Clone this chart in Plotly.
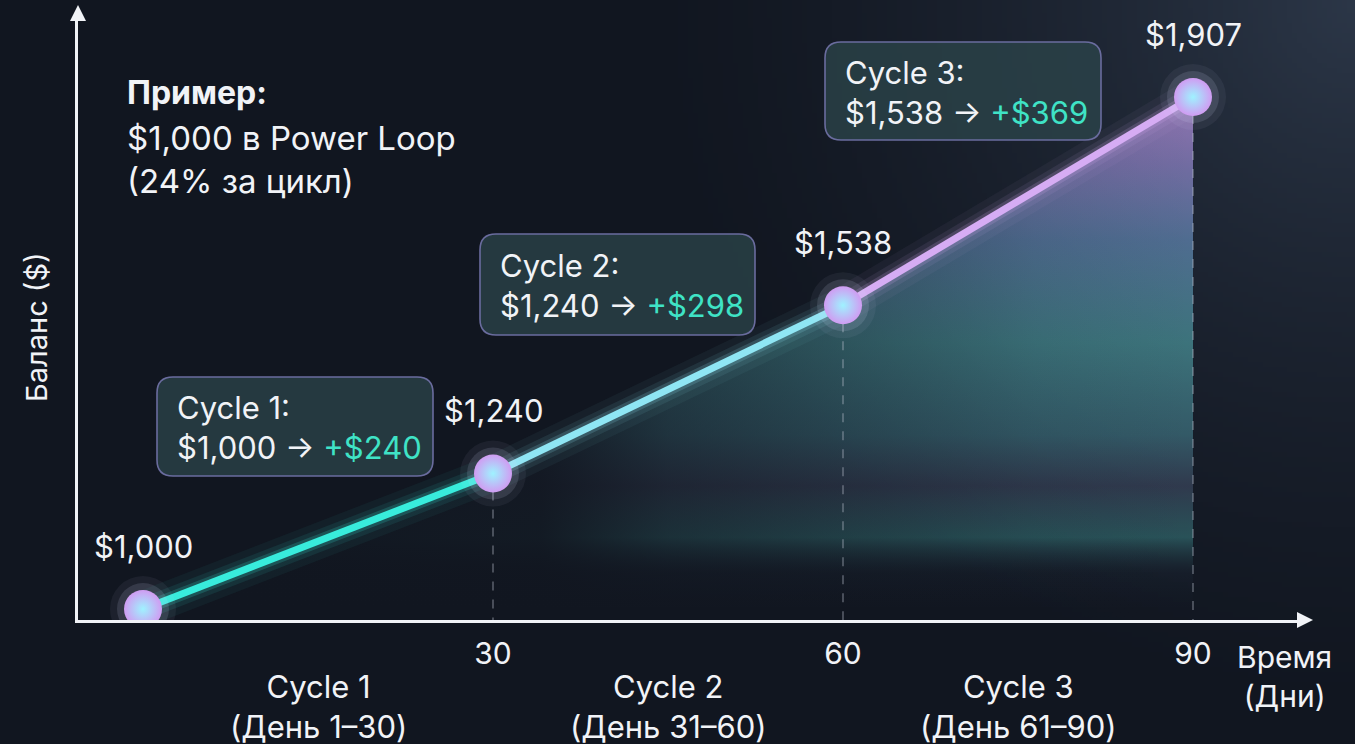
import base64
import struct
import zlib

import numpy as np
import plotly.graph_objects as go

# ---------------- data ----------------
days = [0, 30, 60, 90]
balances = [1000, 1240, 1538, 1907]
balance_labels = ["$1,000", "$1,240", "$1,538", "$1,907"]
x_ticks = [30, 60, 90]
x_tick_labels = ["30", "60", "90"]
cycle_names = ["Cycle 1", "Cycle 2", "Cycle 3"]
cycle_day_ranges = ["(День 1–30)", "(День 31–60)", "(День 61–90)"]
cycle_start_labels = ["$1,000", "$1,240", "$1,538"]
cycle_gain_labels = ["+$240", "+$298", "+$369"]

# ---------------- layout helpers ----------------
W, H = 1355, 744
ML, MR, MT, MB = 78, 57, 20, 124
PW = W - ML - MR
PH = H - MT - MB


def px(x):
    return (x - ML) / PW


def py(y):
    return (H - MB - y) / PH


BG = "#121722"
WHITE = "#f1f3f7"
TEAL = "#3fe3c6"
FONT = "Inter"


# ---------------- background gradient image ----------------
def png_data_uri(arr):
    h, w, _ = arr.shape
    raw = b"".join(b"\x00" + arr[r].tobytes() for r in range(h))

    def chunk(t, d):
        return struct.pack(">I", len(d)) + t + d + struct.pack(">I", zlib.crc32(t + d) & 0xffffffff)

    png = (b"\x89PNG\r\n\x1a\n" + chunk(b"IHDR", struct.pack(">IIBBBBB", w, h, 8, 2, 0, 0, 0))
           + chunk(b"IDAT", zlib.compress(raw, 9)) + chunk(b"IEND", b""))
    return "data:image/png;base64," + base64.b64encode(png).decode()


gw, gh = 271, 149
yy, xx = np.mgrid[0:gh, 0:gw]
d = np.sqrt(((gw - xx) * 5.0) ** 2 + (yy * 5.0) ** 2) / 760.0
t = np.clip(1 - d, 0, 1) ** 1.6
base = np.array([17, 22, 32], float)
light = np.array([44, 55, 72], float)
img = base[None, None, :] * (1 - t[..., None]) + light[None, None, :] * t[..., None]
img = np.clip(img, 0, 255).astype(np.uint8)
bg_uri = png_data_uri(img)

fig = go.Figure()

# gradient area under the curve
fig.add_trace(go.Scatter(
    x=days, y=balances, mode="lines", line=dict(width=0), fill="tozeroy",
    fillgradient=dict(
        type="vertical", start=balances[0], stop=balances[-1],
        colorscale=[[0, "rgba(40,50,80,0)"], [0.07, "rgba(45,70,90,0.12)"],
                    [0.14, "rgba(70,160,160,0.42)"], [0.24, "rgba(80,95,125,0.45)"],
                    [0.34, "rgba(80,150,165,0.5)"], [0.52, "rgba(88,180,185,0.56)"],
                    [0.72, "rgba(115,160,212,0.58)"], [0.87, "rgba(165,150,228,0.62)"],
                    [1, "rgba(205,155,240,0.66)"]]),
    hoverinfo="skip"))
# fade the left part of the area into the background
fig.add_trace(go.Scatter(
    x=days, y=balances, mode="lines", line=dict(width=0), fill="tozeroy",
    fillgradient=dict(
        type="horizontal", start=days[0], stop=days[-1],
        colorscale=[[0, "rgba(17,22,32,1)"], [0.38, "rgba(17,22,32,0.92)"],
                    [0.5, "rgba(17,22,32,0.55)"], [0.67, "rgba(17,22,32,0.3)"],
                    [0.85, "rgba(17,22,32,0.07)"], [1, "rgba(17,22,32,0)"]]),
    hoverinfo="skip"))

# dashed guides from points to x axis
gx, gy = [], []
for dd, b in zip(days[1:], balances[1:]):
    gx += [dd, dd, None]
    gy += [b, 0, None]
fig.add_trace(go.Scatter(x=gx, y=gy, mode="lines",
                         line=dict(color="rgba(190,195,210,0.5)", width=1.3, dash="dash"),
                         hoverinfo="skip"))

# curve segments with glow
seg_colors = ["#38ecdc", "#8fe6f4", "#d6acf4"]
seg_glow = ["56,236,220", "143,230,244", "214,172,244"]
for i in range(len(days) - 1):
    xs, ys = days[i:i + 2], balances[i:i + 2]
    for w, a in [(36, 0.05), (22, 0.09), (13, 0.18)]:
        fig.add_trace(go.Scatter(x=xs, y=ys, mode="lines",
                                 line=dict(color=f"rgba({seg_glow[i]},{a})", width=w),
                                 hoverinfo="skip"))
for i in range(len(days) - 1):
    fig.add_trace(go.Scatter(x=days[i:i + 2], y=balances[i:i + 2], mode="lines",
                             line=dict(color=seg_colors[i], width=7), hoverinfo="skip"))

# point halos and glowing markers
for s, a in [(66, 0.06), (52, 0.13)]:
    fig.add_trace(go.Scatter(x=days, y=balances, mode="markers",
                             marker=dict(size=s, color=f"rgba(215,225,255,{a})", line=dict(width=0)),
                             hoverinfo="skip"))
fig.add_trace(go.Scatter(x=days, y=balances, mode="markers",
                         marker=dict(size=38, color="#d09cf2", line=dict(width=0),
                                     gradient=dict(type="radial", color="#9ff2ff")),
                         hoverinfo="skip"))

# value labels above points
annotations = []
for dd, b, txt in zip(days, balances, balance_labels):
    annotations.append(dict(x=dd, y=b, xref="x", yref="y", text=txt, showarrow=False,
                            xanchor="center", yanchor="middle",
                            yshift=63, font=dict(size=31, color=WHITE, family=FONT)))

# cycle captions below the x axis
for i, (n, r) in enumerate(zip(cycle_names, cycle_day_ranges)):
    mid = (days[i] + days[i + 1]) / 2
    annotations.append(dict(x=mid, y=py(706), xref="x", yref="paper", text=f"{n}<br>{r}",
                            showarrow=False, xanchor="center", yanchor="middle", align="center",
                            font=dict(size=31, color=WHITE, family=FONT)))

# axis titles
annotations.append(dict(x=px(1284), y=py(676), xref="paper", yref="paper", text="Время<br>(Дни)",
                        showarrow=False, xanchor="center", yanchor="middle", align="center",
                        font=dict(size=30, color=WHITE, family=FONT)))
annotations.append(dict(x=px(36), y=py(327), xref="paper", yref="paper", text="Баланс ($)",
                        showarrow=False, textangle=-90, xanchor="center", yanchor="middle",
                        font=dict(size=29, color=WHITE, family=FONT)))

# example text block
annotations.append(dict(x=px(125), y=py(92), xref="paper", yref="paper", text="<b>Пример:</b>",
                        showarrow=False, xanchor="left", yanchor="middle",
                        font=dict(size=32, color=WHITE, family=FONT)))
annotations.append(dict(x=px(125), y=py(160), xref="paper", yref="paper",
                        text="$1,000 в Power Loop<br>(24% за цикл)", align="left",
                        showarrow=False, xanchor="left", yanchor="middle",
                        font=dict(size=33, color=WHITE, family=FONT)))

# callout boxes (pixel rectangles: left, top, right, bottom)
boxes = [(157, 377, 433, 476), (480, 234, 755, 335), (825, 42, 1101, 140)]
shapes = []


def rounded(x0, y0, x1, y1, r):
    a, b, c, dd = px(x0), py(y1), px(x1), py(y0)  # left, bottom, right, top in paper
    rx, ry = r / PW, r / PH
    return (f"M {a+rx},{dd} L {c-rx},{dd} Q {c},{dd} {c},{dd-ry} L {c},{b+ry} "
            f"Q {c},{b} {c-rx},{b} L {a+rx},{b} Q {a},{b} {a},{b+ry} L {a},{dd-ry} "
            f"Q {a},{dd} {a+rx},{dd} Z")


for i, (x0, y0, x1, y1) in enumerate(boxes):
    shapes.append(dict(type="path", xref="paper", yref="paper", path=rounded(x0, y0, x1, y1, 16),
                       fillcolor="rgba(44,70,76,0.74)", line=dict(color="#6a6c9e", width=1.6),
                       layer="above"))
    annotations.append(dict(
        x=px(x0 + 18), y=py((y0 + y1) / 2 + 1), xref="paper", yref="paper",
        text=(f"{cycle_names[i]}:<br>{cycle_start_labels[i]} → "
              f"<span style='color:{TEAL}'>{cycle_gain_labels[i]}</span>"),
        showarrow=False, xanchor="left", yanchor="middle", align="left",
        font=dict(size=31, color=WHITE, family=FONT)))

# arrow heads for the axes
shapes.append(dict(type="path", xref="paper", yref="paper", fillcolor=WHITE, line=dict(width=0),
                   path=f"M {px(1313)},{py(620)} L {px(1297)},{py(612)} L {px(1297)},{py(628)} Z"))
shapes.append(dict(type="path", xref="paper", yref="paper", fillcolor=WHITE, line=dict(width=0),
                   path=f"M {px(78)},{py(5)} L {px(70)},{py(21)} L {px(86)},{py(21)} Z"))

# axis scales: day 0 at px 143, 350 px per 30 days; $1000 at px 609, $1907 at px 97
ppd = 350 / 30
x0 = -(143 - ML) / ppd
x1 = x0 + PW / ppd
ppv = (609 - 97) / (balances[-1] - balances[0])
y0 = balances[0] - (620 - 609) / ppv
y1 = y0 + PH / ppv

fig.update_layout(
    width=W, height=H, margin=dict(l=ML, r=MR, t=MT, b=MB),
    paper_bgcolor=BG, plot_bgcolor="rgba(0,0,0,0)", showlegend=False,
    font=dict(family=FONT, color=WHITE),
    images=[dict(source=bg_uri, xref="paper", yref="paper", x=px(0), y=py(0),
                 sizex=W / PW, sizey=H / PH, xanchor="left", yanchor="top",
                 sizing="stretch", layer="below")],
    xaxis=dict(range=[x0, x1], showgrid=False, zeroline=False, showline=True, linecolor=WHITE,
               linewidth=3, tickvals=x_ticks, ticktext=x_tick_labels, ticks="outside", ticklen=5,
               tickcolor="rgba(0,0,0,0)", tickfont=dict(size=30, color=WHITE, family=FONT),
               fixedrange=True),
    yaxis=dict(range=[y0, y1], showgrid=False, zeroline=False, showline=True, linecolor=WHITE,
               linewidth=3, showticklabels=False, ticks="", fixedrange=True),
    annotations=annotations, shapes=shapes,
)

fig.write_html("out.html", config={"displayModeBar": False},
               post_script="document.body.style.margin='0';document.body.style.overflow='hidden';")
